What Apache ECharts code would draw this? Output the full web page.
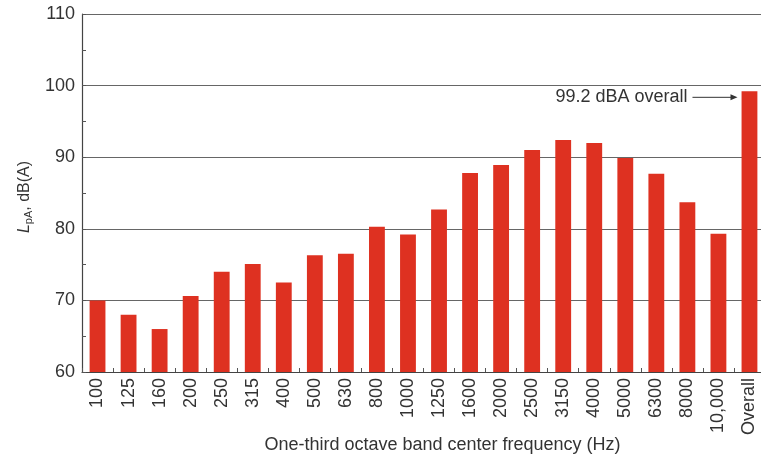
<!DOCTYPE html>
<html>
<head>
<meta charset="utf-8">
<script src="https://cdn.jsdelivr.net/npm/echarts@6/dist/echarts.min.js"></script>
<style>
  html, body { margin: 0; padding: 0; background: #fff; }
  #chart { width: 761px; height: 455px; }
</style>
</head>
<body>
<div id="chart"></div>
<script>
// One-third octave band A-weighted sound pressure levels
const bands = ['100', '125', '160', '200', '250', '315', '400', '500', '630', '800',
  '1000', '1250', '1600', '2000', '2500', '3150', '4000', '5000', '6300', '8000',
  '10,000', 'Overall'];
const levels = [70.0, 68.0, 66.0, 70.6, 74.0, 75.1, 72.5, 76.3, 76.5, 80.3,
  79.2, 82.7, 87.8, 88.9, 91.0, 92.4, 92.0, 89.9, 87.7, 83.7,
  79.3, 99.2];
const yTicks = [60, 70, 80, 90, 100, 110];
const overallLabel = levels[levels.length - 1].toFixed(1) + ' dBA overall';

const font = '"Liberation Sans", Arial, Helvetica, sans-serif';
const chart = echarts.init(document.getElementById('chart'), null, { renderer: 'canvas' });

chart.setOption({
  animation: false,
  backgroundColor: '#fff',
  grid: { left: 82, width: 683, top: 14, bottom: 83, containLabel: false, outerBoundsMode: 'none' },
  xAxis: {
    type: 'category',
    data: bands,
    name: 'One-third octave band center frequency (Hz)',
    nameLocation: 'middle',
    nameGap: 64,
    nameMoveOverlap: false,
    nameTextStyle: { fontFamily: font, fontSize: 18, color: '#333', padding: [0, 0, 0, 38] },
    axisLine: { lineStyle: { color: '#444', width: 1.2 } },
    axisTick: { show: true, inside: true, length: 4, alignWithLabel: false, lineStyle: { color: '#555' } },
    axisLabel: { rotate: 90, margin: 6, fontFamily: font, fontSize: 18, color: '#333', interval: 0 },
    splitLine: { show: false }
  },
  yAxis: {
    type: 'value',
    min: yTicks[0],
    max: yTicks[yTicks.length - 1],
    interval: 10,
    name: '{i|L}{s|pA}{n|, dB(A)}',
    nameLocation: 'middle',
    nameGap: 43,
    nameRotate: 90,
    nameTextStyle: {
      fontFamily: font, color: '#333', padding: [0, 8, 0, 0],
      rich: {
        i: { fontFamily: font, fontSize: 16, fontStyle: 'italic', color: '#333' },
        s: { fontFamily: font, fontSize: 11, color: '#333', verticalAlign: 'bottom', padding: [8, 0, 0, 0] },
        n: { fontFamily: font, fontSize: 16, color: '#333' }
      }
    },
    axisLine: { show: true, lineStyle: { color: '#444', width: 1.2 } },
    axisTick: { show: true, inside: true, length: 4, lineStyle: { color: '#555' } },
    minorTick: { show: true, splitNumber: 2, length: 4, lineStyle: { color: '#555' } },
    axisLabel: { margin: 7, fontFamily: font, fontSize: 18, color: '#333' },
    splitLine: { show: true, lineStyle: { color: '#666', width: 1 } }
  },
  series: [{
    type: 'bar',
    data: levels,
    barWidth: '51%',
    itemStyle: { color: '#de3121' },
    z: 3
  }]
});

// Annotation pointing at the overall bar
function drawNote() {
  const last = levels.length - 1;
  const top = chart.convertToPixel({ xAxisIndex: 0, yAxisIndex: 0 }, [last, levels[last]]);
  const barLeft = top[0] - 8;
  const y = top[1] + 6;
  chart.setOption({
    graphic: [
      {
        type: 'text',
        x: barLeft - 54, y: y,
        style: { text: overallLabel, fontFamily: font, fontSize: 18, fill: '#333', align: 'right', verticalAlign: 'middle' },
        z: 10
      },
      {
        type: 'line',
        shape: { x1: barLeft - 49, y1: y, x2: barLeft - 8, y2: y },
        style: { stroke: '#333', lineWidth: 1 },
        z: 10
      },
      {
        type: 'polygon',
        shape: { points: [[barLeft - 4, y], [barLeft - 11, y - 3], [barLeft - 11, y + 3]] },
        style: { fill: '#333' },
        z: 10
      }
    ]
  });
}
drawNote();
</script>
</body>
</html>
